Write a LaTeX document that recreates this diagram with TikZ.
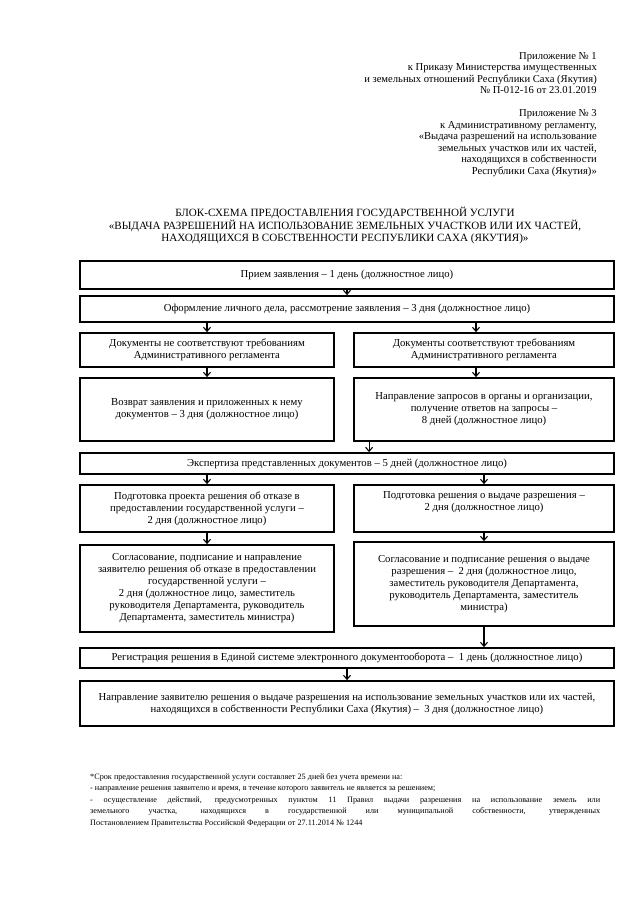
\documentclass[tikz,border=0pt]{standalone}
\usepackage{fontspec}
\setmainfont{Liberation Serif}
\usetikzlibrary{arrows.meta,calc}
\begin{document}
\begin{tikzpicture}[x=1pt,y=-1pt,
  box/.style={draw, line width=1.8pt, align=center, inner sep=0pt,
    font=\fontsize{10.7}{12}\selectfont},
  arr/.style={line width=1.1pt, -{Straight Barb[length=4pt,width=7pt]}},
  plain/.style={inner sep=0pt}
]
\fill[white] (0,0) rectangle (640,905);
\useasboundingbox (0,0) rectangle (640,905);

% header
\node[plain, anchor=north east, align=right, font=\fontsize{10.6}{11.5}\selectfont] (hdr) at (597,52)
{Приложение № 1\\
к Приказу Министерства имущественных\\
и земельных отношений Республики Саха (Якутия)\\
№ П-012-16 от 23.01.2019\\[11.5pt]
Приложение № 3\\
к Административному регламенту,\\
«Выдача разрешений на использование\\
земельных участков или их частей,\\
находящихся в собственности\\
Республики Саха (Якутия)»};

% title
\node[plain, anchor=north, align=center, font=\fontsize{11.1}{12.5}\selectfont] (ttl) at (345,207)
{БЛОК-СХЕМА ПРЕДОСТАВЛЕНИЯ ГОСУДАРСТВЕННОЙ УСЛУГИ\\
«ВЫДАЧА РАЗРЕШЕНИЙ НА ИСПОЛЬЗОВАНИЕ ЗЕМЕЛЬНЫХ УЧАСТКОВ ИЛИ ИХ ЧАСТЕЙ,\\
НАХОДЯЩИХСЯ В СОБСТВЕННОСТИ РЕСПУБЛИКИ САХА (ЯКУТИЯ)»};

% boxes
\node[box, minimum width=534pt, minimum height=28pt] (b1) at (347,275)
{Прием заявления – 1 день (должностное лицо)};
\node[box, minimum width=534pt, minimum height=26pt] (b2) at (347,309)
{Оформление личного дела, рассмотрение заявления – 3 дня (должностное лицо)};

\node[box, minimum width=254pt, minimum height=34pt] (b3L) at (207,350)
{Документы не соответствуют требованиям\\Административного регламента};
\node[box, minimum width=260pt, minimum height=34pt] (b3R) at (484,350)
{Документы соответствуют требованиям\\Административного регламента};

\node[box, minimum width=254pt, minimum height=63pt] (b4L) at (207,409.5)
{Возврат заявления и приложенных к нему\\документов – 3 дня (должностное лицо)};
\node[box, minimum width=260pt, minimum height=63pt] (b4R) at (484,409.5)
{Направление запросов в органы и организации,\\получение ответов на запросы –\\8 дней (должностное лицо)};

\node[box, minimum width=534pt, minimum height=21pt] (b5) at (347,463.5)
{Экспертиза представленных документов – 5 дней (должностное лицо)};

\node[box, minimum width=254pt, minimum height=47pt] (b6L) at (207,508.5)
{Подготовка проекта решения об отказе в\\предоставлении государственной услуги –\\2 дня (должностное лицо)};
\node[box, minimum width=260pt, minimum height=47pt] (b6R) at (484,508.5) {};
\node[plain, anchor=north, align=center, font=\fontsize{10.7}{12}\selectfont] (t6R)
  at ([yshift=-7pt]b6R.north)
{Подготовка решения о выдаче разрешения –\\2 дня (должностное лицо)};

\node[box, minimum width=254pt, minimum height=87pt] (b7L) at (207,588.5)
{Согласование, подписание и направление\\заявителю решения об отказе в предоставлении\\государственной услуги –\\2 дня (должностное лицо, заместитель\\руководителя Департамента, руководитель\\Департамента, заместитель министра)};
\node[box, minimum width=260pt, minimum height=84pt] (b7R) at (484,584)
{Согласование и подписание решения о выдаче\\разрешения –\ \ 2 дня (должностное лицо,\\заместитель руководителя Департамента,\\руководитель Департамента, заместитель\\министра)};

\node[box, minimum width=534pt, minimum height=20pt] (b8) at (347,658)
{Регистрация решения в Единой системе электронного документооборота –\ \ 1 день (должностное лицо)};

\node[box, minimum width=534pt, minimum height=45pt] (b9) at (347,703.5)
{Направление заявителю решения о выдаче разрешения на использование земельных участков или их частей,\\находящихся в собственности Республики Саха (Якутия) –\ \ 3 дня (должностное лицо)};

% connectors
\draw[arr] (b1.south) -- (b2.north);
\draw[arr] (b3L.north |- b2.south) -- (b3L.north);
\draw[arr] ([xshift=-8pt]b3R.north |- b2.south) -- ([xshift=-8pt]b3R.north);
\draw[arr] (b3L.south) -- (b4L.north);
\draw[arr] ([xshift=-8pt]b3R.south) -- ([xshift=-8pt]b4R.north);
\coordinate (k) at ([xshift=16pt]b4R.south west);
\draw[arr] (k) -- (k |- b5.north);
\draw[arr] (b6L.north |- b5.south) -- (b6L.north);
\draw[arr] (b6R.north |- b5.south) -- (b6R.north);
\draw[arr] (b6L.south) -- (b7L.north);
\draw[arr] (b6R.south) -- (b7R.north);
\draw[arr] (b7R.south) -- (b7R.south |- b8.north);
\draw[arr] (b8.south) -- (b9.north);

% footnote
\node[plain, anchor=north west, text width=510pt, align=justify,
  font=\fontsize{8.2}{11.5}\selectfont] (fn) at (90,773)
{*Срок предоставления государственной услуги составляет 25 дней без учета времени на:\\
- направление решения заявителю и время, в течение которого заявитель не является за решением;\\
- осуществление действий, предусмотренных пунктом 11 Правил выдачи разрешения на использование земель или\linebreak
земельного участка, находящихся в государственной или муниципальной собственности, утвержденных\linebreak
Постановлением Правительства Российской Федерации от 27.11.2014 № 1244};
\end{tikzpicture}
\end{document}
